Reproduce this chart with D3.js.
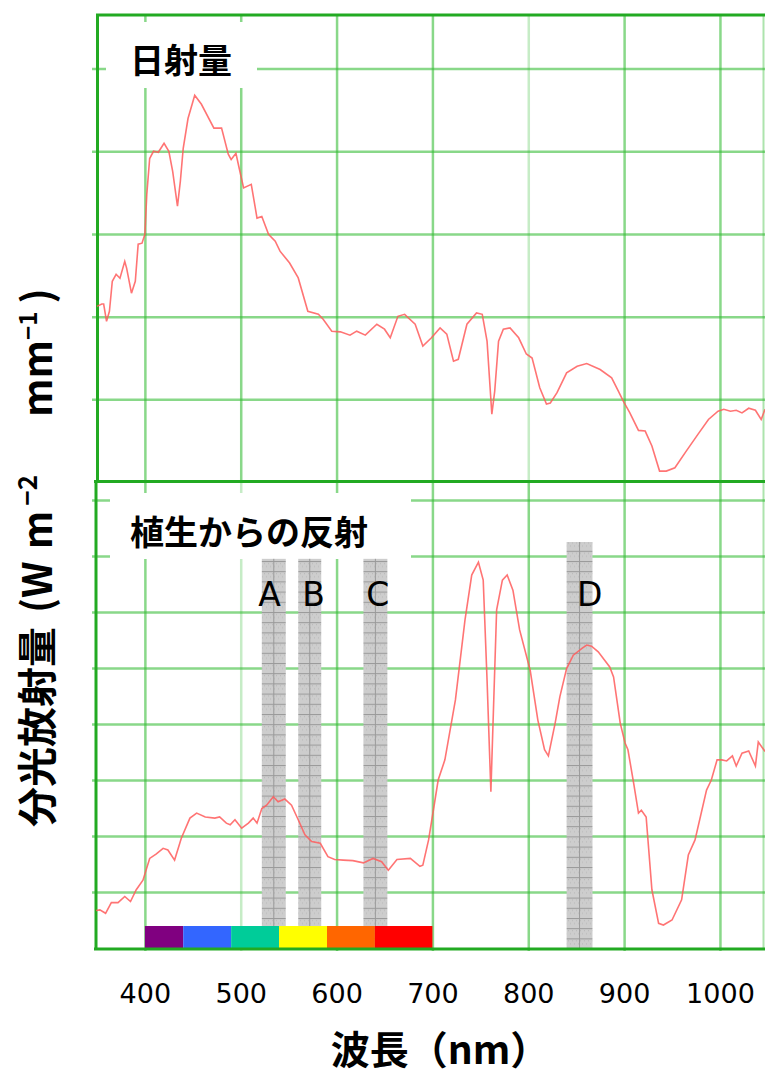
<!DOCTYPE html>
<html>
<head>
<meta charset="utf-8">
<script src="https://cdnjs.cloudflare.com/ajax/libs/d3/7.8.5/d3.min.js"></script>
<style>
    body { margin: 0; background: #fff; }
    #chart-area { width: 765px; height: 1077px; }
    .grid line { stroke: #33bb33; stroke-width: 2.5; stroke-opacity: 0.58; }
    .grid path { display: none; }
    .x-axis path, .x-axis line { display: none; }
    .x-axis text { font-family: "DejaVu Sans", sans-serif; font-size: 27px; fill: #000; }
</style>
</head>
<body>
<div id="chart-area"></div>
<script>

// ---- data ----
// solar irradiance (top panel)
let sunNm = [350, 355, 357, 360, 363, 366, 370, 374, 379, 381, 386, 390, 393, 397, 400, 402, 405, 409, 414, 420,
    425, 429, 434, 437, 440, 445, 452, 459, 472, 480, 487, 490, 495, 498, 503, 511, 517, 522, 529, 536,
    541, 551, 560, 570, 581, 586, 595, 604, 614, 621, 630, 642, 650, 656, 664, 671, 682, 690, 699, 708,
    715, 722, 727, 736, 746, 752, 757, 762, 765, 769, 774, 781, 790, 798, 804, 812, 819, 823, 830, 840,
    851, 861, 875, 887, 894, 899, 906, 915, 922, 929, 937, 944, 953, 965, 977, 988, 998, 1004, 1011, 1017,
    1023, 1030, 1037, 1043, 1047];
let sunIrr = [531, 538, 538, 486, 516, 607, 628, 616, 667, 646, 571, 607, 719, 722, 749, 870, 978, 1000, 997, 1024,
    1000, 939, 834, 909, 1009, 1099, 1169, 1142, 1070, 1070, 991, 975, 994, 954, 889, 900, 798, 803, 749, 728,
    698, 662, 617, 516, 507, 492, 456, 454, 444, 456, 444, 477, 462, 436, 501, 507, 477, 411, 436, 466,
    447, 365, 371, 477, 511, 507, 426, 205, 275, 426, 462, 466, 436, 387, 375, 285, 236, 239, 270, 330,
    350, 358, 340, 315, 275, 245, 209, 156, 154, 109, 33, 33, 43, 94, 144, 189, 214, 220, 214, 217,
    209, 223, 217, 189, 220];

// reflected radiance from vegetation (bottom panel)
let vegNm = [349, 353, 359, 365, 372, 379, 385, 391, 398, 405, 412, 419, 424, 431, 438, 447, 454, 463, 473, 478,
    485, 489, 494, 501, 508, 513, 517, 522, 527, 534, 539, 546, 553, 560, 567, 574, 583, 591, 598, 607,
    617, 628, 638, 647, 654, 663, 677, 687, 690, 696, 701, 706, 713, 724, 734, 741, 748, 753, 757, 761,
    764, 767, 773, 778, 784, 791, 802, 810, 817, 821, 828, 833, 840, 847, 856, 861, 866, 873, 885, 889,
    896, 901, 904, 910, 915, 918, 923, 929, 936, 941, 950, 960, 967, 974, 986, 991, 997, 1002, 1007, 1013,
    1017, 1023, 1030, 1037, 1040, 1047];
let vegRad = [6.7, 6.8, 6.2, 8.1, 8.1, 9.2, 8.3, 10.4, 12.1, 16.0, 16.8, 17.8, 17.5, 15.7, 19.6, 23.2, 24.1, 23.4, 23.2, 23.4,
    22.3, 22.0, 22.9, 21.4, 22.3, 23.2, 22.3, 24.9, 25.5, 27.0, 26.1, 26.6, 25.5, 22.9, 20.2, 19.0, 18.7, 16.3, 15.8, 15.7,
    15.6, 15.2, 16.0, 15.4, 13.9, 15.8, 16.0, 14.6, 14.8, 19.3, 24.6, 30.0, 33.6, 44.3, 58.6, 66.6, 68.9, 65.7, 47.9, 27.9,
    44.3, 60.4, 65.7, 66.6, 63.9, 56.8, 49.6, 40.7, 35.4, 34.3, 40.1, 44.9, 49.9, 52.3, 53.5, 54.1, 53.9, 52.9, 50.2, 48.4,
    40.1, 36.6, 35.4, 29.4, 24.1, 24.6, 23.4, 10.4, 4.4, 4.1, 5.0, 8.6, 16.6, 19.3, 28.2, 30.0, 33.6, 33.6, 33.4, 34.3,
    32.5, 34.8, 35.2, 32.5, 36.8, 35.1];

// shaded bands A-D
let bandNames = ['A', 'B', 'C', 'D'];
let bandStart = [522, 560, 628, 840];
let bandEnd = [547, 584, 653, 867];
let bandTop = [69.5, 69.5, 69.5, 72.5];
let bandLabelNm = [530, 576, 643, 864];
let bandLabelVal = 61;

// visible spectrum bar
let spectrumStops = [400, 440, 490, 540, 590, 640, 700];
let spectrumColors = ['#800080', '#3366ff', '#00cc99', '#ffff00', '#ff6600', '#ff0000'];

// ticks / grid
let xTicks = [400, 500, 600, 700, 800, 900, 1000];
let sunTicks = [250, 500, 750, 1000, 1250];
let vegTicks = [10, 20, 30, 40, 50, 60, 70, 80];

let topTitle = '日射量';
let bottomTitle = '植生からの反射';
let xTitle = '波長（nm）';


class SpectrumChart {

    constructor(parentElement) {
        this.parentElement = parentElement;
        this.initVis();
    }

    initVis() {
        let vis = this;

        vis.width = 765;
        vis.height = 1077;

        vis.svg = d3.select('#' + vis.parentElement).append('svg')
            .attr('width', vis.width)
            .attr('height', vis.height);

        vis.svg.append('rect')
            .attr('width', vis.width)
            .attr('height', vis.height)
            .attr('fill', '#fff');

        // panel geometry
        vis.left = 96;
        vis.right = 765;
        vis.top = 14;
        vis.mid = 481;
        vis.bottom = 948;

        // scales
        vis.x = d3.scaleLinear().domain([349, 1047]).range([vis.left, vis.right]);
        vis.ySun = d3.scaleLinear().domain([0, 1415]).range([482, vis.top]);
        vis.yVeg = d3.scaleLinear().domain([0, 83.4]).range([vis.bottom, vis.mid]);

        // hatch pattern for bands
        let defs = vis.svg.append('defs');
        let pat = defs.append('pattern')
            .attr('id', 'band-hatch')
            .attr('patternUnits', 'userSpaceOnUse')
            .attr('width', 4)
            .attr('height', 10.2);
        pat.append('rect').attr('width', 4).attr('height', 10.2).attr('fill', '#cdcdcd');
        pat.append('rect').attr('x', 0).attr('y', 2).attr('width', 1).attr('height', 1).attr('fill', '#b8b8b8');
        pat.append('rect').attr('x', 2).attr('y', 5).attr('width', 1).attr('height', 1).attr('fill', '#b8b8b8');
        pat.append('line').attr('x1', 0).attr('x2', 4).attr('y1', 0.5).attr('y2', 0.5)
            .attr('stroke', '#999').attr('stroke-width', 1);

        // horizontal grid lines
        vis.svg.append('g')
            .attr('class', 'grid')
            .attr('transform', 'translate(92,0)')
            .call(d3.axisLeft(vis.ySun).tickValues(sunTicks).tickSize(-(vis.right - 92)).tickFormat(''));

        vis.svg.append('g')
            .attr('class', 'grid')
            .attr('transform', 'translate(92,0)')
            .call(d3.axisLeft(vis.yVeg).tickValues(vegTicks).tickSize(-(vis.right - 92)).tickFormat(''));

        // vertical grid lines, one set per panel
        vis.svg.append('g')
            .attr('class', 'grid')
            .attr('transform', `translate(0,${vis.mid})`)
            .call(d3.axisBottom(vis.x).tickValues(xTicks).tickSize(-(vis.mid - vis.top)).tickFormat(''))
            .selectAll('line')
            .style('stroke-opacity', d => d === 800 ? 0.28 : null);

        vis.svg.append('g')
            .attr('class', 'grid')
            .attr('transform', `translate(0,${vis.bottom + 3})`)
            .call(d3.axisBottom(vis.x).tickValues(xTicks).tickSize(-(vis.bottom + 3 - vis.mid)).tickFormat(''))
            .selectAll('line')
            .style('stroke-opacity', d => d === 500 ? 0.28 : null);

        // right edge line
        vis.svg.append('line')
            .attr('x1', 763.5).attr('x2', 763.5)
            .attr('y1', vis.top).attr('y2', vis.bottom)
            .attr('stroke', '#33bb33').attr('stroke-opacity', 0.4).attr('stroke-width', 2);

        // white boxes behind the panel titles
        vis.svg.append('rect')
            .attr('x', 106).attr('y', 22).attr('width', 151).attr('height', 66)
            .attr('fill', '#fff');
        vis.svg.append('rect')
            .attr('x', 110).attr('y', 493).attr('width', 301).attr('height', 66)
            .attr('fill', '#fff');

        // shaded bands
        vis.bands = vis.svg.selectAll('.band')
            .data(bandNames)
            .enter().append('g')
            .attr('class', 'band');

        vis.bands.append('rect')
            .attr('x', (d, i) => vis.x(bandStart[i]))
            .attr('y', (d, i) => vis.yVeg(bandTop[i]))
            .attr('width', (d, i) => vis.x(bandEnd[i]) - vis.x(bandStart[i]))
            .attr('height', (d, i) => vis.bottom - vis.yVeg(bandTop[i]))
            .attr('fill', 'url(#band-hatch)');

        vis.bands.append('line')
            .attr('x1', (d, i) => vis.x((bandStart[i] + bandEnd[i]) / 2))
            .attr('x2', (d, i) => vis.x((bandStart[i] + bandEnd[i]) / 2))
            .attr('y1', (d, i) => vis.yVeg(bandTop[i]))
            .attr('y2', vis.bottom)
            .attr('stroke', '#9a9a9a')
            .attr('stroke-width', 1);

        vis.bands.append('text')
            .attr('x', (d, i) => vis.x(bandLabelNm[i]))
            .attr('y', vis.yVeg(bandLabelVal))
            .attr('text-anchor', 'middle')
            .style('font-family', '"DejaVu Sans", sans-serif')
            .style('font-size', '33px')
            .text(d => d);

        // visible spectrum bar
        vis.svg.selectAll('.spectrum')
            .data(spectrumColors)
            .enter().append('rect')
            .attr('class', 'spectrum')
            .attr('x', (d, i) => vis.x(spectrumStops[i]))
            .attr('y', vis.bottom - 22)
            .attr('width', (d, i) => vis.x(spectrumStops[i + 1]) - vis.x(spectrumStops[i]))
            .attr('height', 22)
            .attr('fill', d => d);

        // frame lines
        let frame = vis.svg.append('g').attr('class', 'frame')
            .attr('stroke', '#22aa22')
            .attr('stroke-width', 3);
        frame.append('line').attr('x1', 97.5).attr('x2', 97.5).attr('y1', vis.top).attr('y2', vis.mid);
        frame.append('line').attr('x1', 96).attr('x2', 96).attr('y1', vis.mid).attr('y2', vis.bottom + 2);
        frame.append('line').attr('x1', 96).attr('x2', vis.right).attr('y1', vis.top + 1).attr('y2', vis.top + 1);
        frame.append('line').attr('x1', 94).attr('x2', vis.right).attr('y1', vis.mid + 0.5).attr('y2', vis.mid + 0.5);
        frame.append('line').attr('x1', 94).attr('x2', vis.right).attr('y1', vis.bottom + 1).attr('y2', vis.bottom + 1);

        // curves
        vis.sunLine = d3.line()
            .x(d => vis.x(d[0]))
            .y(d => vis.ySun(d[1]));
        vis.vegLine = d3.line()
            .x(d => vis.x(d[0]))
            .y(d => vis.yVeg(d[1]));

        vis.svg.append('path')
            .datum(d3.zip(sunNm, sunIrr))
            .attr('d', vis.sunLine)
            .attr('fill', 'none')
            .attr('stroke', '#ff5c5c')
            .attr('stroke-opacity', 0.85)
            .attr('stroke-width', 1.6);

        vis.svg.append('path')
            .datum(d3.zip(vegNm, vegRad))
            .attr('d', vis.vegLine)
            .attr('fill', 'none')
            .attr('stroke', '#ff5c5c')
            .attr('stroke-opacity', 0.85)
            .attr('stroke-width', 1.6);

        // x axis labels
        vis.svg.append('g')
            .attr('class', 'x-axis')
            .attr('transform', `translate(0,${vis.bottom})`)
            .call(d3.axisBottom(vis.x).tickValues(xTicks).tickSize(0).tickPadding(36).tickFormat(d3.format('d')));

        // titles
        vis.svg.append('text')
            .attr('x', 130).attr('y', 73)
            .style('font-family', '"Noto Sans CJK JP", sans-serif')
            .style('font-weight', 'bold')
            .style('font-size', '34px')
            .text(topTitle);

        vis.svg.append('text')
            .attr('x', 130).attr('y', 545)
            .style('font-family', '"Noto Sans CJK JP", sans-serif')
            .style('font-weight', 'bold')
            .style('font-size', '34px')
            .text(bottomTitle);

        vis.svg.append('text')
            .attr('x', 440).attr('y', 1064)
            .attr('text-anchor', 'middle')
            .style('font-family', '"Noto Sans CJK JP", sans-serif')
            .style('font-weight', 'bold')
            .style('font-size', '39px')
            .text(xTitle);

        // y title, rotated
        let yt = vis.svg.append('text')
            .attr('transform', 'translate(52,827) rotate(-90)')
            .style('font-family', '"Noto Sans CJK JP", sans-serif')
            .style('font-weight', 'bold')
            .style('font-size', '40px');
        yt.append('tspan').text('分光放射量');
        yt.append('tspan').attr('dx', 14).text('(W');
        yt.append('tspan').attr('dx', 12).text('m');
        yt.append('tspan').attr('dx', 5).attr('dy', -15).style('font-size', '26px').text('−2');
        yt.append('tspan').attr('dx', 58).attr('dy', 15).text('mm');
        yt.append('tspan').attr('dy', -15).style('font-size', '24px').text('−1');
        yt.append('tspan').attr('dx', 8).attr('dy', 15).text(')');
    }
}

let chart = new SpectrumChart('chart-area');
</script>
</body>
</html>
